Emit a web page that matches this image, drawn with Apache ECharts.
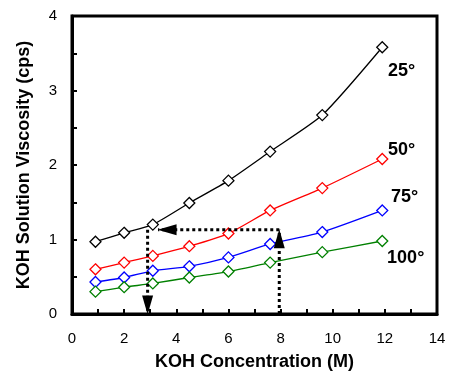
<!DOCTYPE html>
<html>
<head>
<meta charset="utf-8">
<script src="https://cdn.jsdelivr.net/npm/echarts@6/dist/echarts.min.js"></script>
<style>
  html, body { margin: 0; padding: 0; background: #fff; }
  #chart { width: 449px; height: 379px; }
</style>
</head>
<body>
<div id="chart"></div>
<script>
// KOH concentration (M) for each measured sample
const concentration = [0.9, 2.0, 3.1, 4.5, 6.0, 7.6, 9.6, 11.9];

// Viscosity (cps) at each temperature
const visc25 = [0.97, 1.09, 1.20, 1.49, 1.79, 2.18, 2.67, 3.58];
const visc50 = [0.60, 0.69, 0.78, 0.91, 1.08, 1.39, 1.69, 2.08];
const visc75 = [0.43, 0.49, 0.58, 0.64, 0.76, 0.94, 1.10, 1.39];
const visc100 = [0.30, 0.36, 0.41, 0.49, 0.57, 0.69, 0.83, 0.98];

const seriesNames = ['25°', '50°', '75°', '100°'];
const seriesColors = ['#000000', '#ff0000', '#0000ff', '#008000'];
const seriesValues = [visc25, visc50, visc75, visc100];
// where each temperature label sits relative to its last marker
const labelOffsets = [[12, 21], [12, -12], [15, -16], [11, 14]];

// Reading guide: same viscosity at 8 M (warm) as at ~3 M (25°)
const guideLevel = 1.13;
const guideFrom = 7.95;
const guideTo = 3.3;
const guideDrop = 2.9;

const xTicks = { min: 0, max: 14, interval: 2 };
const yTicks = { min: 0, max: 4, interval: 1 };

const font = '"Liberation Sans", Arial, sans-serif';

function buildSeries(i) {
  const vals = seriesValues[i];
  const data = concentration.map((x, k) => {
    const item = { value: [x, vals[k]] };
    if (k === vals.length - 1) {
      item.label = {
        show: true,
        formatter: seriesNames[i],
        position: labelOffsets[i],
        align: 'left',
        verticalAlign: 'top',
        color: '#000',
        fontFamily: font,
        fontWeight: 'bold',
        fontSize: 18
      };
    }
    return item;
  });
  return {
    name: seriesNames[i],
    type: 'line',
    data: data,
    smooth: 0.2,
    symbol: 'diamond',
    symbolSize: 11,
    showSymbol: true,
    color: seriesColors[i],
    lineStyle: { color: seriesColors[i], width: 1.3 },
    itemStyle: { color: '#fff', borderColor: seriesColors[i], borderWidth: 1.3 },
    label: { show: false },
    z: 3
  };
}

const series = seriesValues.map((_, i) => buildSeries(i));

// dotted guide with a solid arrowhead at its far end
function guide(from, to, rotate, offset) {
  return {
    type: 'line',
    data: [
      { value: from, symbol: 'none' },
      { value: to, symbol: 'triangle', symbolSize: [11, 19], symbolRotate: rotate, symbolOffset: offset }
    ],
    showSymbol: true,
    symbol: 'triangle',
    color: '#000',
    lineStyle: { color: '#000', width: 3, type: [3, 3] },
    itemStyle: { color: '#000', borderWidth: 0 },
    z: 4,
    silent: true
  };
}

series.push(guide([guideFrom, guideLevel], [guideTo, guideLevel], 90, [9, 0]));
series.push(guide([guideDrop, guideLevel], [guideDrop, 0], 180, [0, -9]));
series.push(guide([guideFrom, 0], [guideFrom, guideLevel], 0, [0, 9]));

const chart = echarts.init(document.getElementById('chart'), null, { renderer: 'canvas' });
chart.setOption({
  animation: false,
  backgroundColor: '#fff',
  grid: {
    left: 72, right: 12, top: 16, bottom: 65,
    show: true, borderColor: '#000', borderWidth: 3, backgroundColor: 'transparent'
  },
  xAxis: {
    type: 'value',
    min: xTicks.min, max: xTicks.max, interval: xTicks.interval,
    name: 'KOH Concentration (M)',
    nameLocation: 'middle',
    nameGap: 39,
    nameTextStyle: { fontFamily: font, fontWeight: 'bold', fontSize: 18, color: '#000' },
    axisLine: { show: true, lineStyle: { color: '#000', width: 3 } },
    axisTick: { show: true, inside: true, length: 5, lineStyle: { color: '#000', width: 2 } },
    minorTick: { show: true, splitNumber: 2, length: 5, lineStyle: { color: '#000', width: 2 } },
    splitLine: { show: false },
    axisLabel: { fontFamily: font, fontSize: 15, color: '#000', margin: 17 }
  },
  yAxis: {
    type: 'value',
    min: yTicks.min, max: yTicks.max, interval: yTicks.interval,
    name: 'KOH Solution Viscosity (cps)',
    nameLocation: 'middle',
    nameGap: 39,
    nameRotate: 90,
    nameTextStyle: { fontFamily: font, fontWeight: 'bold', fontSize: 18, color: '#000' },
    axisLine: { show: true, lineStyle: { color: '#000', width: 3 } },
    axisTick: { show: true, inside: true, length: 5, lineStyle: { color: '#000', width: 2 } },
    minorTick: { show: true, splitNumber: 2, length: 5, lineStyle: { color: '#000', width: 2 } },
    splitLine: { show: false },
    axisLabel: { fontFamily: font, fontSize: 15, color: '#000', margin: 15 }
  },
  series: series
});
</script>
</body>
</html>
